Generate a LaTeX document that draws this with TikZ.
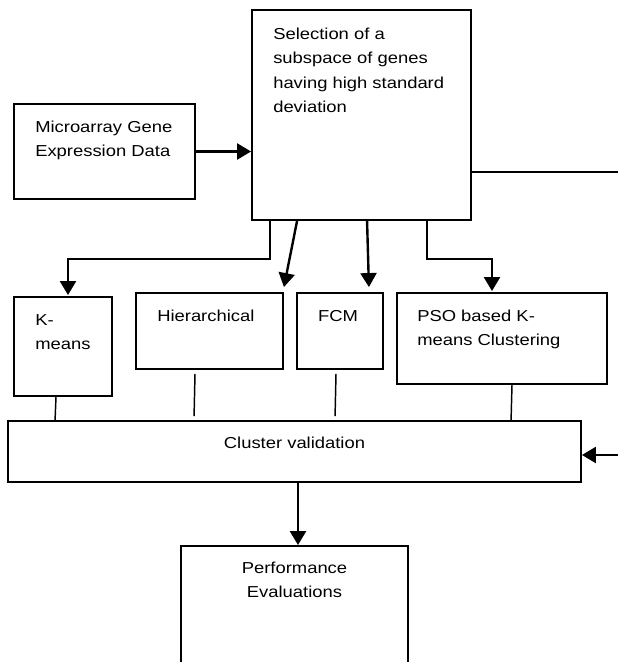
\documentclass[tikz,border=0pt]{standalone}
\usepackage{fontspec}
\setmainfont{Liberation Sans}[FakeStretch=1.16]
\usetikzlibrary{arrows.meta,fit,calc}

\begin{document}
\begin{tikzpicture}[x=0.75pt,y=-0.75pt,
  box/.style={draw, line width=1.4pt, inner sep=0pt},
  txt/.style={inner sep=0pt, font=\fontsize{11.9pt}{18.4pt}\selectfont},
  arr/.style={line width=1.8pt, -{Triangle[length=10.5pt,width=12pt]}},
  ln/.style={line width=1.1pt}]
\useasboundingbox (0,0) rectangle (618,662);
\clip (0,0) rectangle (618,662);

% boxes
\node[box, fit={(14,104)(195,199)}] (micro) {};
\node[box, fit={(252,10)(471,220)}] (sel) {};
\node[box, fit={(14,297)(112,396)}] (km) {};
\node[box, fit={(136,293)(283,369)}] (hier) {};
\node[box, fit={(297,293)(383,369)}] (fcm) {};
\node[box, fit={(397,293)(607,384)}] (pso) {};
\node[box, fit={(8,421)(581,482)}] (cv) {};
\node[box, fit={(181,546)(408,690)}] (perf) {};

% texts
\node[txt, anchor=base west] (microT) at (35,132) {\begin{tabular}[t]{@{}l@{}}Microarray Gene\\Expression Data\end{tabular}};
\node[txt, anchor=base west] (selT) at (273,39) {\begin{tabular}[t]{@{}l@{}}Selection of a\\subspace of genes\\having high standard\\deviation\end{tabular}};
\node[txt, anchor=base west] (kmT) at (35,325) {\begin{tabular}[t]{@{}l@{}}K-\\means\end{tabular}};
\node[txt, anchor=base west] (hierT) at (157,321) {Hierarchical};
\node[txt, anchor=base] (fcmT) at (338,321) {FCM};
\node[txt, anchor=base west] (psoT) at (417,321) {\begin{tabular}[t]{@{}l@{}}PSO based K-\\means Clustering\end{tabular}};
\node[txt, anchor=base] (cvT) at (294.5,448) {Cluster validation};
\node[txt, anchor=base] (perfT) at (294.5,573) {\begin{tabular}[t]{@{}c@{}}Performance\\Evaluations\end{tabular}};

% free ends at the right edge
\coordinate (outR) at (622,172);
\coordinate (inR) at (622,455);

% connectors
\draw[arr] (micro.east) -- (micro.east -| sel.west);
\draw[ln, line width=1.4pt] (sel.east |- outR) -- (outR);
\draw[arr] ($(sel.south west)+(19,0)$) |- ($(km.north)+(5,-37)$) -- ($(km.north)+(5,-1)$);
\draw[arr] ($(sel.south west)+(46,0)$) -- ($(hier.north east)+(0,-5)$);
\draw[arr] ($(sel.south west)+(116,0)$) -- ($(fcm.north east)+(-15,-5)$);
\draw[arr] ($(sel.south west)+(176,0)$) |- ($(pso.north)+(-10,-33)$) -- ($(pso.north)+(-10,-1)$);

\draw[ln] ($(km.south)+(-7,0)$) -- ($(cv.north west)+(48,0)$);
\draw[ln] ($(hier.south)+(-14.5,4)$) -- ($(cv.north west)+(187,-4)$);
\draw[ln] ($(fcm.south)+(-4,4)$) -- ($(cv.north west)+(328,-4)$);
\draw[ln] ($(pso.south)+(10,0)$) -- ($(cv.north west)+(504,0)$);

\draw[arr] (inR) -- (inR -| cv.east);
\draw[arr] ($(cv.south)+(3.5,0)$) -- ($(perf.north)+(3.5,0)$);
\end{tikzpicture}
\end{document}
